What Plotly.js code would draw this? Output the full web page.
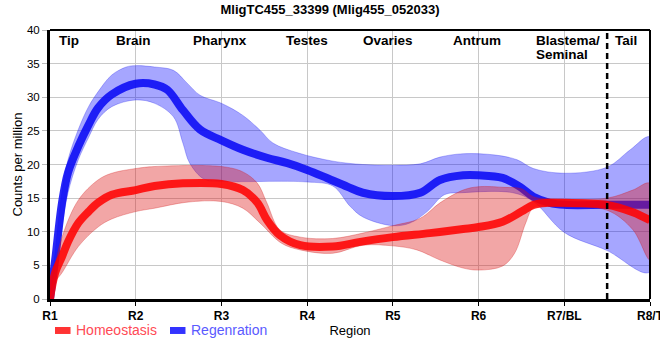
<!DOCTYPE html>
<html>
<head>
<meta charset="utf-8">
<script src="https://cdn.plot.ly/plotly-3.0.1.min.js"></script>
<style>html,body{margin:0;padding:0;background:#fff;}#chart{width:660px;height:360px;}</style>
</head>
<body>
<div id="chart"></div>
<script>
// ---- data ----
const tickLabels = ["R1","R2","R3","R4","R5","R6","R7/BL","R8/T"];
const regionNames = ["Tip","Brain","Pharynx","Testes","Ovaries","Antrum","Blastema/","Seminal","Tail"];
const regionPos = [0.22, 0.97, 1.98, 3.0, 3.94, 4.98, 5.65, 5.65, 6.72];

// Regeneration (blue)
const regMeanX = [0,0.06,0.14,0.21,0.33,0.45,0.56,0.72,1.0,1.22,1.37,1.55,1.75,2.0,2.25,2.53,2.77,3.0,3.23,3.47,3.65,4.0,4.32,4.55,4.82,5.0,5.28,5.48,5.64,5.83,6.0,6.5,7.0];
const regMeanY = [0,5.8,14.3,18.8,22.7,25.9,28.4,30.4,32.0,31.9,31.1,28.1,25.2,23.6,22.2,21.0,20.2,19.2,18.0,16.7,15.8,15.3,15.8,17.7,18.4,18.4,18.0,16.7,15.2,14.3,14.0,14.0,14.0];
const regUpX = [0,0.06,0.14,0.21,0.33,0.45,0.56,0.72,0.89,1.0,1.22,1.44,1.6,1.75,2.0,2.25,2.45,2.6,2.9,3.3,3.65,4.0,4.32,4.55,4.82,5.2,5.45,5.64,6.0,6.5,6.77,7.0];
const regUpY = [0,7.0,16.0,20.7,25.2,28.6,30.8,33.3,34.5,34.7,34.5,34.0,32.1,30.3,29.1,27.3,25.1,23.2,21.7,20.5,20.0,19.9,20.1,21.1,21.6,21.4,20.7,19.4,18.7,19.6,22.2,24.1];
const regLoX = [0,0.06,0.14,0.21,0.33,0.45,0.56,0.72,1.0,1.22,1.44,1.55,1.63,1.8,2.0,3.0,3.3,3.5,3.65,4.0,4.2,4.4,4.6,4.8,5.4,5.64,6.0,6.5,7.0];
const regLoY = [0,4.5,10.7,15.8,20.7,24.0,26.7,28.6,29.6,29.1,27.1,23.2,20.2,17.8,17.5,17.4,16.8,13.8,12.2,10.9,11.3,13.0,15.5,15.8,15.8,14.5,9.9,7.2,4.0];

// Homeostasis (red)
const homMeanX = [0,0.06,0.14,0.21,0.33,0.45,0.56,0.72,1.0,1.22,1.55,2.0,2.25,2.42,2.53,2.68,2.92,3.3,3.62,4.0,4.43,4.82,5.0,5.28,5.5,5.64,5.8,6.0,6.5,6.8,7.0];
const homMeanY = [0,3.9,6.3,8.5,11.3,13.0,14.3,15.5,16.2,16.8,17.2,17.1,16.2,14.3,11.8,9.5,8.0,7.8,8.5,9.2,9.8,10.4,10.7,11.5,13.0,14.0,14.3,14.3,14.0,12.9,11.7];
const homUpX = [0,0.06,0.14,0.33,0.56,0.72,1.0,1.22,2.0,2.25,2.42,2.53,2.68,2.92,3.3,3.65,4.0,4.32,4.55,4.82,5.0,5.3,5.5,5.64,5.8,6.5,6.8,7.0];
const homUpY = [0,5.0,9.2,14.7,17.7,18.7,19.4,19.7,19.7,18.9,17.2,14.3,10.3,9.2,9.0,9.8,10.9,12.0,14.3,16.2,16.7,16.6,16.4,15.2,14.9,15.0,16.2,17.2];
const homLoX = [0,0.06,0.14,0.33,0.56,0.72,1.0,1.22,1.6,2.0,2.25,2.45,2.7,2.92,3.3,3.65,4.0,4.28,4.55,4.82,5.0,5.28,5.42,5.55,5.64,5.8,6.0,6.5,6.8,7.0];
const homLoY = [0,2.5,3.9,7.8,10.7,11.9,13.0,13.5,14.4,14.5,13.5,11.3,8.3,7.3,6.8,8.0,7.9,7.3,5.8,4.6,4.3,4.9,6.8,11.3,13.6,13.8,13.7,13.2,10.3,5.8];

const seriesNames = ["Homeostasis","Regenration"];
const dividerX = 6.5;

// ---- build traces ----
function band(ux, uy, lx, ly, fill, edge) {
  return {
    x: ux.concat(lx.slice().reverse()),
    y: uy.concat(ly.slice().reverse()),
    type: 'scatter', mode: 'lines', fill: 'toself', fillcolor: fill,
    line: {color: edge, width: 1, shape: 'spline', smoothing: 1},
    hoverinfo: 'skip', showlegend: false
  };
}
const traces = [
  band(regUpX, regUpY, regLoX, regLoY, 'rgba(0,0,255,0.35)', 'rgba(0,0,230,0.25)'),
  {x: regMeanX, y: regMeanY, type: 'scatter', mode: 'lines', name: seriesNames[1],
   line: {color: 'rgba(10,10,245,0.88)', width: 8, shape: 'spline', smoothing: 1}, hoverinfo: 'skip'},
  band(homUpX, homUpY, homLoX, homLoY, 'rgba(220,20,20,0.38)', 'rgba(210,20,20,0.3)'),
  {x: homMeanX, y: homMeanY, type: 'scatter', mode: 'lines', name: seriesNames[0],
   line: {color: 'rgba(255,0,0,0.86)', width: 8, shape: 'spline', smoothing: 1}, hoverinfo: 'skip'}
];

const F = '"Liberation Sans", Arial, sans-serif';
const pyToData = py => (299 - py) / 6.725;

const annotations = regionNames.map((t, i) => {
  const isBl = (t === "Blastema/" || t === "Seminal");
  return {
    x: regionPos[i], xref: 'x', y: pyToData(t === "Seminal" ? 54 : 40), yref: 'y',
    text: '<b>' + t + '</b>', showarrow: false,
    xanchor: isBl ? 'left' : 'center', yanchor: 'middle',
    font: {family: F, size: 13.5, color: '#000'}
  };
});
// custom legend texts
annotations.push({x: 0.04, xref: 'paper', y: -0.117, yref: 'paper', text: seriesNames[0], showarrow: false,
  xanchor: 'left', yanchor: 'middle', font: {family: F, size: 14, color: '#ff4a55'}});
annotations.push({x: 0.2317, xref: 'paper', y: -0.117, yref: 'paper', text: seriesNames[1], showarrow: false,
  xanchor: 'left', yanchor: 'middle', font: {family: F, size: 14, color: '#5a5aff'}});

const shapes = [
  {type: 'line', xref: 'x', yref: 'paper', x0: dividerX, x1: dividerX, y0: 0, y1: 1,
   line: {color: '#000', width: 2.5, dash: '6px,4px'}},
  {type: 'line', xref: 'paper', yref: 'paper', x0: 0, x1: 1, y0: 1, y1: 1, line: {color: '#000', width: 2}},
  {type: 'line', xref: 'paper', yref: 'paper', x0: 1, x1: 1, y0: 0, y1: 1, line: {color: '#000', width: 2}},
  {type: 'rect', xref: 'paper', yref: 'paper', x0: 0.0083, x1: 0.0342, y0: -0.104, y1: -0.130,
   fillcolor: '#ff3333', line: {width: 0}},
  {type: 'rect', xref: 'paper', yref: 'paper', x0: 0.2, x1: 0.2258, y0: -0.104, y1: -0.130,
   fillcolor: '#3333ff', line: {width: 0}}
];

const layout = {
  width: 660, height: 360,
  margin: {l: 50, r: 10, t: 30, b: 61},
  paper_bgcolor: '#fff', plot_bgcolor: '#fff',
  showlegend: false,
  title: {text: '<b>MligTC455_33399 (Mlig455_052033)</b>', x: 0.5, xanchor: 'center',
          y: 0.975, yanchor: 'middle', yref: 'container', font: {family: F, size: 13, color: '#000'}},
  xaxis: {
    range: [0, 7], tickvals: [0,1,2,3,4,5,6,7], ticktext: tickLabels,
    ticklabeloverflow: 'allow',
    showgrid: true, gridcolor: '#c8c8c8', gridwidth: 1, zeroline: false,
    showline: true, linecolor: '#000', linewidth: 3,
    ticks: 'outside', ticklen: 4, tickcolor: '#000', tickwidth: 1,
    tickfont: {family: F, size: 12, color: '#000', weight: 'bold'},
    title: {text: 'Region', font: {family: F, size: 13, color: '#000'}, standoff: 4},
    fixedrange: true
  },
  yaxis: {
    range: [0, 40], dtick: 5,
    showgrid: true, gridcolor: '#c8c8c8', gridwidth: 1, zeroline: false,
    showline: true, linecolor: '#000', linewidth: 3,
    ticks: 'outside', ticklen: 5, tickcolor: '#bbbbbb', tickwidth: 1,
    tickfont: {family: F, size: 11.5, color: '#000'},
    title: {text: 'Counts per million', font: {family: F, size: 13, color: '#000'}, standoff: 2},
    fixedrange: true
  },
  annotations: annotations,
  shapes: shapes
};

Plotly.newPlot('chart', traces, layout, {displayModeBar: false, staticPlot: true});
</script>
</body>
</html>
